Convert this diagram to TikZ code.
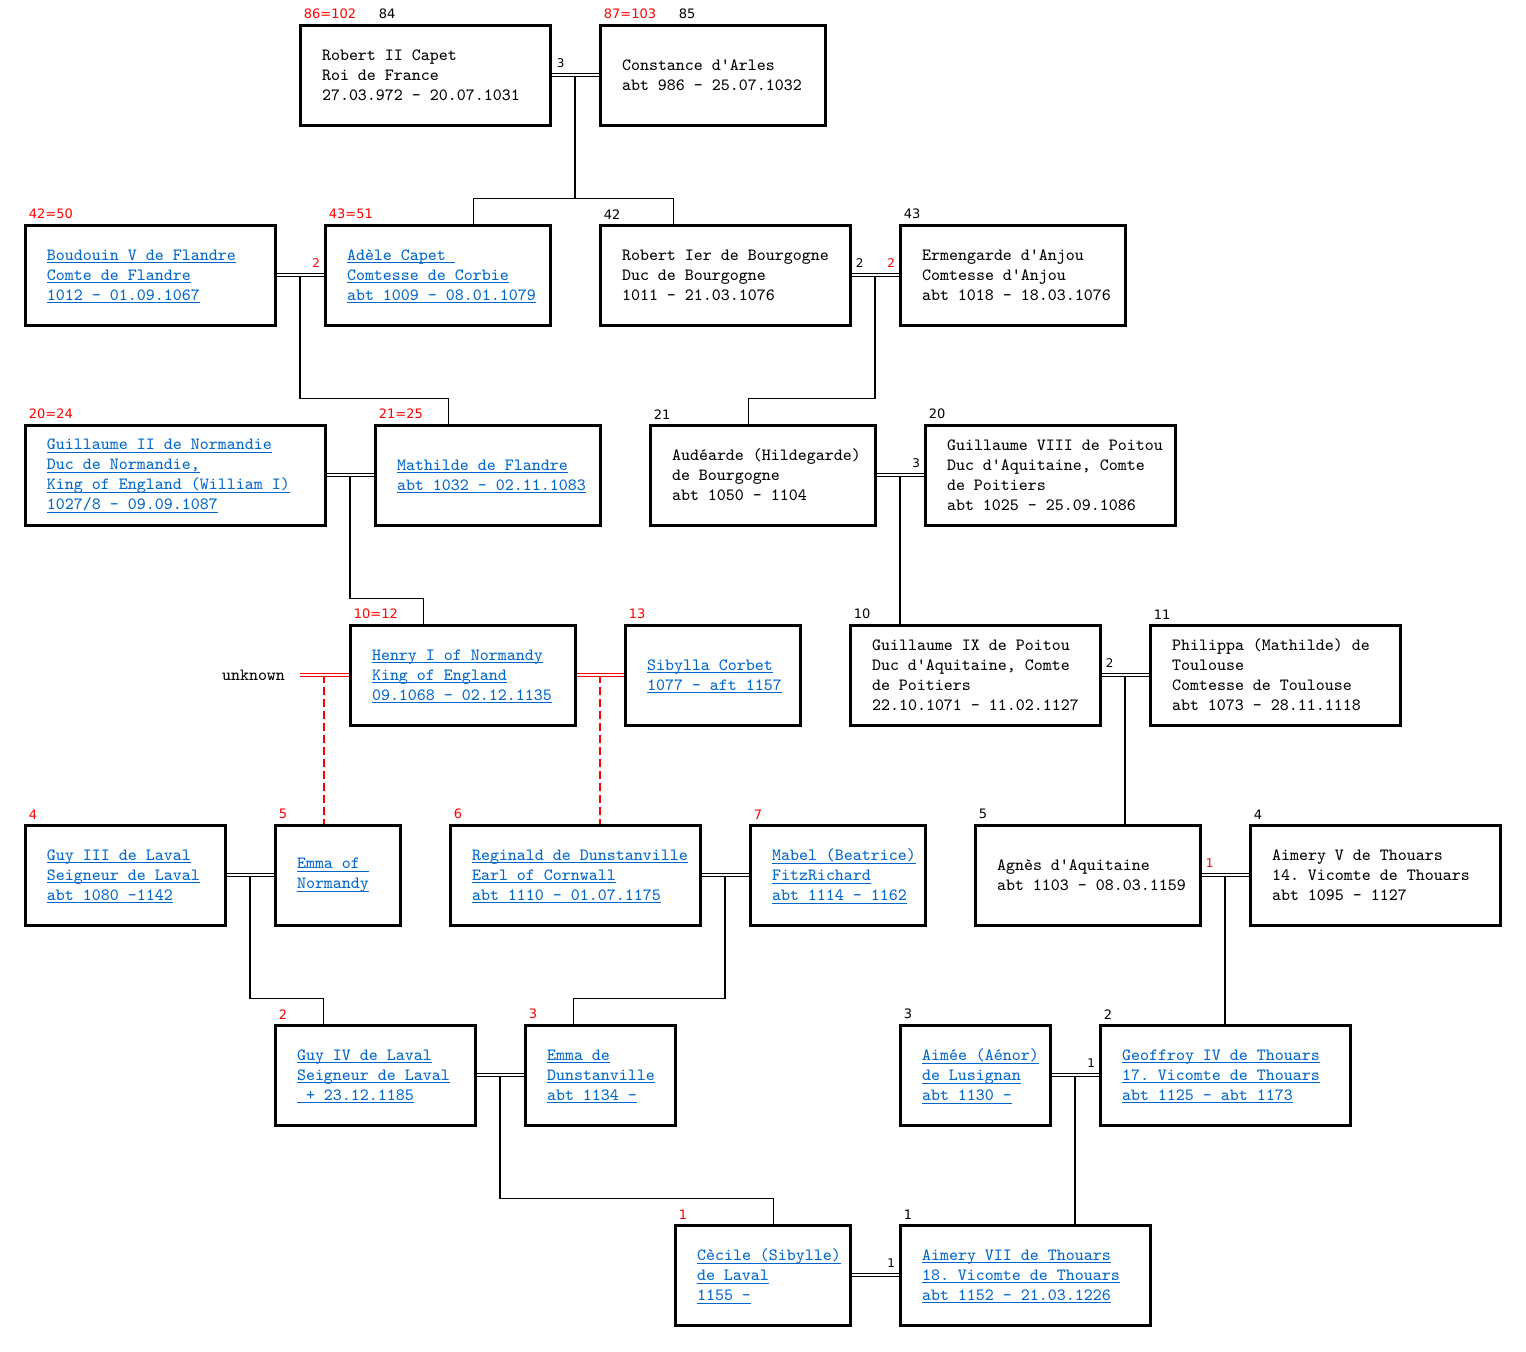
\documentclass[tikz,border=0pt]{standalone}
\usepackage{fontspec}
\newfontfamily\numfont{DejaVu Sans}
\usetikzlibrary{calc}

\definecolor{linkblue}{RGB}{0,102,204}
\definecolor{numred}{RGB}{255,0,0}
\newcommand{\lnk}[1]{\textcolor{linkblue}{\setbox0=\hbox{#1}\rlap{\smash{\rule[-1.6pt]{\wd0}{0.5pt}}}\box0}}

\begin{document}
\begin{tikzpicture}[
  x=0.5pt,y=-0.5pt,
  person/.style={draw, line width=1.5pt, text width=#1, minimum height=50pt, inner xsep=0pt, inner ysep=0pt, align=left,
    font={\ttfamily\fontsize{8.57pt}{10pt}\selectfont},
    execute at begin node={\setlength{\leftskip}{11pt}\spaceskip=0pt\relax\frenchspacing}},
  num/.style={font={\numfont\fontsize{6.5pt}{8pt}\selectfont}, inner sep=0pt, anchor=south west},
  rnum/.style={num, text=numred},
  mnum/.style={font={\numfont\fontsize{6pt}{7pt}\selectfont}, inner sep=0pt},
  desc/.style={line width=0.9pt},
  dashdesc/.style={draw=numred, line width=1pt, dash pattern=on 4pt off 2pt},
  tie/.style={double=white, line width=0.5pt, double distance=0.7pt},
  untie/.style={tie, draw=numred}
]
\useasboundingbox (0,0) rectangle (1526,1351);

% generation 1
\node[person=125pt] (robert) at (425,75) {Robert II Capet\\Roi de France\\27.03.972 - 20.07.1031};
\node[person=112.5pt] (constance) at (712.5,75) {Constance d'Arles\\abt 986 - 25.07.1032};

% generation 2
\node[person=125pt] (baudouin) at (150,275) {\lnk{Boudouin V de Flandre}\\\lnk{Comte de Flandre}\\\lnk{1012 - 01.09.1067}};
\node[person=112.5pt] (adele) at (437.5,275) {\lnk{Adèle Capet }\\\lnk{Comtesse de Corbie}\\\lnk{abt 1009 - 08.01.1079}};
\node[person=125pt] (robbourg) at (725,275) {Robert Ier de Bourgogne\\Duc de Bourgogne\\1011 - 21.03.1076};
\node[person=112.5pt] (ermengarde) at (1012.5,275) {Ermengarde d'Anjou\\Comtesse d'Anjou\\abt 1018 - 18.03.1076};

% generation 3
\node[person=150pt] (guillnorm) at (175,475) {\lnk{Guillaume II de Normandie}\\\lnk{Duc de Normandie,}\\\lnk{King of England (William I)}\\\lnk{1027/8 - 09.09.1087}};
\node[person=112.5pt] (mathilde) at (487.5,475) {\lnk{Mathilde de Flandre}\\\lnk{abt 1032 - 02.11.1083}};
\node[person=112.5pt] (audearde) at (762.5,475) {Audéarde (Hildegarde)\\de Bourgogne\\abt 1050 - 1104};
\node[person=125pt] (guillviii) at (1050,475) {Guillaume VIII de Poitou\\Duc d'Aquitaine, Comte\\de Poitiers\\abt 1025 - 25.09.1086};

% generation 4
\node[person=112.5pt] (henry) at (462.5,675) {\lnk{Henry I of Normandy}\\\lnk{King of England}\\\lnk{09.1068 - 02.12.1135}};
\node[person=87.5pt] (sibylla) at (712.5,675) {\lnk{Sibylla Corbet}\\\lnk{1077 - aft 1157}};
\node[person=125pt] (guillix) at (975,675) {Guillaume IX de Poitou\\Duc d'Aquitaine, Comte\\de Poitiers\\22.10.1071 - 11.02.1127};
\node[person=125pt] (philippa) at (1275,675) {Philippa (Mathilde) de\\Toulouse\\Comtesse de Toulouse\\abt 1073 - 28.11.1118};
\node[font={\ttfamily\fontsize{8.57pt}{10pt}\selectfont}, inner sep=0pt] (unknown) at (253.5,675) {unknown};
\coordinate (unk) at ($(unknown.east)+(15,0)$);

% generation 5
\node[person=100pt] (guyiii) at (125,875) {\lnk{Guy III de Laval}\\\lnk{Seigneur de Laval}\\\lnk{abt 1080 -1142}};
\node[person=62.5pt] (emmanorm) at (337.5,875) {\lnk{Emma of }\\\lnk{Normandy}};
\node[person=125pt] (reginald) at (575,875) {\lnk{Reginald de Dunstanville}\\\lnk{Earl of Cornwall}\\\lnk{abt 1110 - 01.07.1175}};
\node[person=87.5pt] (mabel) at (837.5,875) {\lnk{Mabel (Beatrice)}\\\lnk{FitzRichard}\\\lnk{abt 1114 - 1162}};
\node[person=112.5pt] (agnes) at (1087.5,875) {Agnès d'Aquitaine\\abt 1103 - 08.03.1159};
\node[person=125pt] (aimeryv) at (1375,875) {Aimery V de Thouars\\14. Vicomte de Thouars\\abt 1095 - 1127};

% generation 6
\node[person=100pt] (guyiv) at (375,1075) {\lnk{Guy IV de Laval}\\\lnk{Seigneur de Laval}\\\lnk{\ + 23.12.1185}};
\node[person=75pt] (emmadun) at (600,1075) {\lnk{Emma de}\\\lnk{Dunstanville}\\\lnk{abt 1134 -}};
\node[person=75pt] (aimee) at (975,1075) {\lnk{Aimée (Aénor)}\\\lnk{de Lusignan}\\\lnk{abt 1130 -}};
\node[person=125pt] (geoffroy) at (1225,1075) {\lnk{Geoffroy IV de Thouars}\\\lnk{17. Vicomte de Thouars}\\\lnk{abt 1125 - abt 1173}};

% generation 7
\node[person=87.5pt] (cecile) at (762.5,1275) {\lnk{Cècile (Sibylle)}\\\lnk{de Laval}\\\lnk{1155 -}};
\node[person=125pt] (aimeryvii) at (1025,1275) {\lnk{Aimery VII de Thouars}\\\lnk{18. Vicomte de Thouars}\\\lnk{abt 1152 - 21.03.1226}};

% numbers above the boxes
\node[rnum] (robertR) at ($(robert.north west)+(5,-4)$) {86=102};
\node[num] (robertB) at ($(robert.north west)+(80,-4)$) {84};
\node[rnum] (constanceR) at ($(constance.north west)+(5,-4)$) {87=103};
\node[num] (constanceB) at ($(constance.north west)+(80,-4)$) {85};
\node[rnum] (baudouinR) at ($(baudouin.north west)+(5,-4)$) {42=50};
\node[rnum] (adeleR) at ($(adele.north west)+(5,-4)$) {43=51};
\node[num] (robbourgB) at ($(robbourg.north west)+(5,-4)$) {42};
\node[num] (ermengardeB) at ($(ermengarde.north west)+(5,-4)$) {43};
\node[rnum] (guillnormR) at ($(guillnorm.north west)+(5,-4)$) {20=24};
\node[rnum] (mathildeR) at ($(mathilde.north west)+(5,-4)$) {21=25};
\node[num] (audeardeB) at ($(audearde.north west)+(5,-4)$) {21};
\node[num] (guillviiiB) at ($(guillviii.north west)+(5,-4)$) {20};
\node[rnum] (henryR) at ($(henry.north west)+(5,-4)$) {10=12};
\node[rnum] (sibyllaR) at ($(sibylla.north west)+(5,-4)$) {13};
\node[num] (guillixB) at ($(guillix.north west)+(5,-4)$) {10};
\node[num] (philippaB) at ($(philippa.north west)+(5,-4)$) {11};
\node[rnum] (guyiiiR) at ($(guyiii.north west)+(5,-4)$) {4};
\node[rnum] (emmanormR) at ($(emmanorm.north west)+(5,-4)$) {5};
\node[rnum] (reginaldR) at ($(reginald.north west)+(5,-4)$) {6};
\node[rnum] (mabelR) at ($(mabel.north west)+(5,-4)$) {7};
\node[num] (agnesB) at ($(agnes.north west)+(5,-4)$) {5};
\node[num] (aimeryvB) at ($(aimeryv.north west)+(5,-4)$) {4};
\node[rnum] (guyivR) at ($(guyiv.north west)+(5,-4)$) {2};
\node[rnum] (emmadunR) at ($(emmadun.north west)+(5,-4)$) {3};
\node[num] (aimeeB) at ($(aimee.north west)+(5,-4)$) {3};
\node[num] (geoffroyB) at ($(geoffroy.north west)+(5,-4)$) {2};
\node[rnum] (cecileR) at ($(cecile.north west)+(5,-4)$) {1};
\node[num] (aimeryviiB) at ($(aimeryvii.north west)+(5,-4)$) {1};

% marriage midpoints
\coordinate (m1) at ($(robert.east)!0.5!(constance.west)$);
\coordinate (m2) at ($(baudouin.east)!0.5!(adele.west)$);
\coordinate (m3) at ($(robbourg.east)!0.5!(ermengarde.west)$);
\coordinate (m4) at ($(guillnorm.east)!0.5!(mathilde.west)$);
\coordinate (m5) at ($(audearde.east)!0.5!(guillviii.west)$);
\coordinate (m6) at ($(unk)!0.5!(henry.west)$);
\coordinate (m7) at ($(henry.east)!0.5!(sibylla.west)$);
\coordinate (m8) at ($(guillix.east)!0.5!(philippa.west)$);
\coordinate (m9) at ($(guyiii.east)!0.5!(emmanorm.west)$);
\coordinate (m10) at ($(reginald.east)!0.5!(mabel.west)$);
\coordinate (m11) at ($(agnes.east)!0.5!(aimeryv.west)$);
\coordinate (m12) at ($(guyiv.east)!0.5!(emmadun.west)$);
\coordinate (m13) at ($(aimee.east)!0.5!(geoffroy.west)$);

% lines down to the children
\draw[desc] (m1) |- ($(adele.north west)+(150,-25)$) -- +(0,25);
\draw[desc] (m1) |- ($(robbourg.north west)+(75,-25)$) -- +(0,25);
\draw[desc] (m2) |- ($(mathilde.north west)+(75,-25)$) -- +(0,25);
\draw[desc] (m3) |- ($(audearde.north west)+(100,-25)$) -- +(0,25);
\draw[desc] (m4) |- ($(henry.north west)+(75,-25)$) -- +(0,25);
\draw[desc] (m5) -- (m5 |- guillix.north);
\draw[dashdesc] (m6) -- (m6 |- emmanorm.north);
\draw[dashdesc] (m7) -- (m7 |- reginald.north);
\draw[desc] (m8) -- (m8 |- agnes.north);
\draw[desc] (m9) |- ($(guyiv.north west)+(50,-25)$) -- +(0,25);
\draw[desc] (m10) |- ($(emmadun.north west)+(50,-25)$) -- +(0,25);
\draw[desc] (m11) -- (m11 |- geoffroy.north);
\draw[desc] (m12) |- ($(cecile.north west)+(100,-25)$) -- +(0,25);
\draw[desc] (m13) -- (m13 |- aimeryvii.north);

% marriages
\draw[tie] (robert) -- (constance);
\draw[tie] (baudouin) -- (adele);
\draw[tie] (robbourg) -- (ermengarde);
\draw[tie] (guillnorm) -- (mathilde);
\draw[tie] (audearde) -- (guillviii);
\draw[untie] (unk) -- (henry);
\draw[untie] (henry) -- (sibylla);
\draw[tie] (guillix) -- (philippa);
\draw[tie] (guyiii) -- (emmanorm);
\draw[tie] (reginald) -- (mabel);
\draw[tie] (agnes) -- (aimeryv);
\draw[tie] (guyiv) -- (emmadun);
\draw[tie] (aimee) -- (geoffroy);
\draw[tie] (cecile) -- (aimeryvii);

% marriage numbers
\node[mnum, anchor=south west] (m1n) at ($(robert.east)+(5,-7)$) {3};
\node[mnum, anchor=south east, text=numred] (m2n) at ($(adele.west)+(-3,-7)$) {2};
\node[mnum, anchor=south west] (m3n) at ($(robbourg.east)+(4,-7)$) {2};
\node[mnum, anchor=south east, text=numred] (m3r) at ($(ermengarde.west)+(-3,-7)$) {2};
\node[mnum, anchor=south east] (m5n) at ($(guillviii.west)+(-3,-7)$) {3};
\node[mnum, anchor=south west] (m8n) at ($(guillix.east)+(4,-7)$) {2};
\node[mnum, anchor=south west, text=numred] (m11n) at ($(agnes.east)+(4,-7)$) {1};
\node[mnum, anchor=south east] (m13n) at ($(geoffroy.west)+(-3,-7)$) {1};
\node[mnum, anchor=south east] (m14n) at ($(aimeryvii.west)+(-3,-7)$) {1};
\end{tikzpicture}
\end{document}
